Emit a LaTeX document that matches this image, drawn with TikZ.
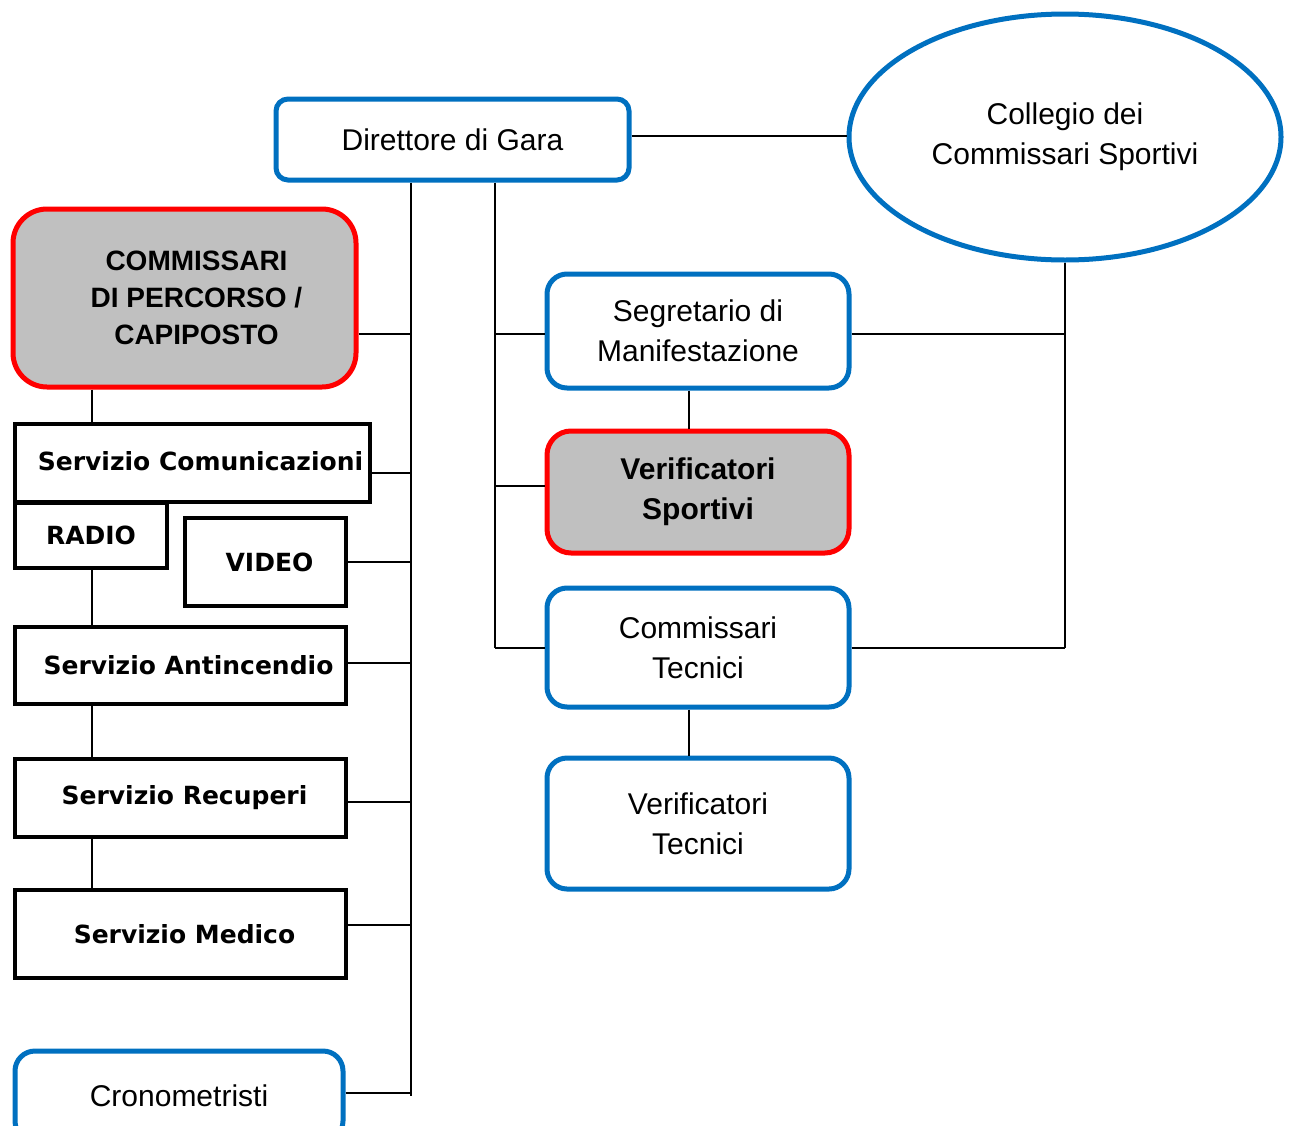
\documentclass[tikz,border=0pt]{standalone}
\usepackage{fontspec}
\setmainfont{Liberation Sans}
\newfontfamily\verd{DejaVu Sans}
\usetikzlibrary{shapes.geometric}
\definecolor{orgblue}{HTML}{0070C0}
\definecolor{orgred}{HTML}{FF0000}
\definecolor{orggray}{HTML}{C0C0C0}

\begin{document}
\begin{tikzpicture}[
      x=0.5pt, y=-0.5pt,
      bluebox/.style={draw=orgblue, fill=white, line width=2.5pt, rounded corners=10pt,
                      inner sep=0pt, align=center, font=\fontsize{15}{20}\selectfont},
      redbox/.style={draw=orgred, fill=orggray, line width=2.5pt, rounded corners=12pt,
                     inner sep=0pt, align=center, font=\fontsize{15}{20}\selectfont\bfseries},
      plainbox/.style={draw=black, fill=white, line width=2pt, inner sep=0pt,
                       align=center, font=\verd\fontsize{12.5}{15}\selectfont\bfseries},
      link/.style={draw=black, line width=1pt}]
    \useasboundingbox (0,0) rectangle (1290,1125);
    \coordinate (lbus) at (411,0);
    \coordinate (mbus) at (495,0);
    \coordinate (sbus) at (92,0);
    % vertici
    \node[bluebox, minimum width=176.5pt, minimum height=40.5pt, rounded corners=6pt] (dir) at (452.5,139.5) {Direttore di Gara};
    \node[ellipse, draw=orgblue, line width=2.5pt, inner sep=0pt, align=center,
          minimum width=216pt, minimum height=123pt, font=\fontsize{15}{20}\selectfont] (coll) at (1065,137) {Collegio dei\\Commissari Sportivi};
    % colonna sinistra
    \node[redbox, minimum width=171.5pt, minimum height=89pt, rounded corners=17pt,
          font=\fontsize{14}{18.5}\selectfont\bfseries] (cpd) at (184.5,298) {\hspace*{12pt}COMMISSARI\\\hspace*{12pt}DI PERCORSO /\\\hspace*{12pt}CAPIPOSTO};
    \node[plainbox, minimum width=177.5pt, minimum height=39pt] (scom) at (192.5,463) {\raisebox{2pt}{\hspace*{8pt}Servizio Comunicazioni}};
    \node[plainbox, minimum width=76pt, minimum height=32.5pt] (radio) at (91,535.5) {RADIO};
    \node[plainbox, minimum width=80.5pt, minimum height=44pt] (video) at (265.5,562) {\hspace*{4pt}VIDEO};
    \node[plainbox, minimum width=165.5pt, minimum height=38.5pt] (santi) at (180.5,665.5) {\hspace*{8pt}Servizio Antincendio};
    \node[plainbox, minimum width=165.5pt, minimum height=39pt] (srec) at (180.5,798) {\hspace*{4pt}Servizio Recuperi};
    \node[plainbox, minimum width=165.5pt, minimum height=44pt] (smed) at (180.5,934) {\hspace*{4pt}Servizio Medico};
    \node[bluebox, minimum width=164pt, minimum height=45pt] (crono) at (179,1096) {Cronometristi};
    % colonna centrale
    \node[bluebox, minimum width=151pt, minimum height=57pt] (segr) at (698,331) {Segretario di\\Manifestazione};
    \node[redbox, minimum width=151pt, minimum height=61pt] (vsport) at (698,492) {Verificatori\\Sportivi};
    \node[bluebox, minimum width=151pt, minimum height=59.5pt] (ctec) at (698,647.5) {Commissari\\Tecnici};
    \node[bluebox, minimum width=151pt, minimum height=65.5pt] (vtec) at (698,823.5) {Verificatori\\Tecnici};
    % collegamenti
    \draw[link] ([yshift=2pt]dir.east) -- ([yshift=2pt]dir.east -| coll.west);
    \draw[link] (dir.south -| lbus) -- (crono.east -| lbus);
    \draw[link] ([yshift=-18pt]cpd.east) -- ([yshift=-18pt]cpd.east -| lbus);
    \foreach \n/\dy in {scom/-5pt, video/0pt, santi/1.5pt, srec/-2pt, smed/4.5pt, crono/1.5pt}
      \draw[link] ([yshift=\dy]\n.east) -- ([yshift=\dy]\n.east -| lbus);
    \draw[link] (cpd.south -| sbus) -- (scom.north -| sbus);
    \draw[link] (radio.south -| sbus) -- (santi.north -| sbus);
    \draw[link] (santi.south -| sbus) -- (srec.north -| sbus);
    \draw[link] (srec.south -| sbus) -- (smed.north -| sbus);
    \draw[link] (dir.south -| mbus) -- (ctec.west -| mbus);
    \foreach \n/\dy in {segr/-1.5pt, vsport/3pt, ctec/0pt}
      \draw[link] ([yshift=\dy]\n.west -| mbus) -- ([yshift=\dy]\n.west);
    \draw[link] (segr.south -| 689,0) -- (vsport.north -| 689,0);
    \draw[link] (ctec.south -| 689,0) -- (vtec.north -| 689,0);
    \draw[link] (coll.south) -- (ctec.east -| coll.south);
    \draw[link] ([yshift=-1.5pt]segr.east) -- ([yshift=-1.5pt]segr.east -| coll.south);
    \draw[link] (ctec.east) -- (ctec.east -| coll.south);
  \end{tikzpicture}
\end{document}
